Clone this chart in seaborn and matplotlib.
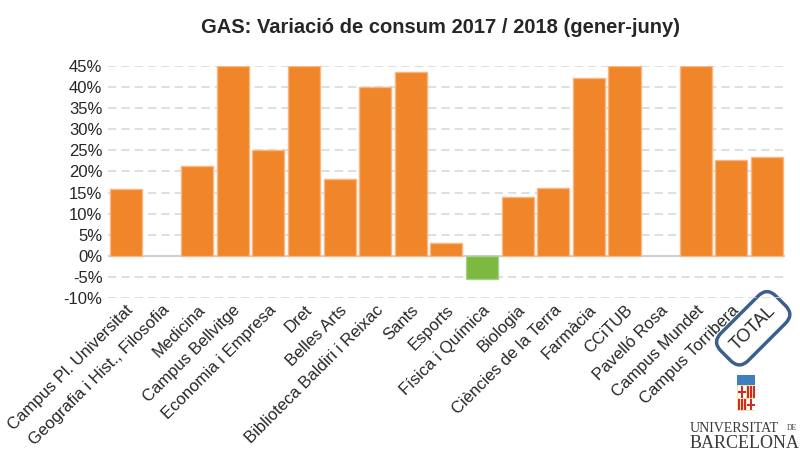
import numpy as np
import pandas as pd
import matplotlib
matplotlib.use("Agg")
import matplotlib.pyplot as plt
import seaborn as sns
from matplotlib.patches import Rectangle
from matplotlib.ticker import FuncFormatter

# centres / edificis (gener-juny 2017 vs 2018)
centres = ["Campus Pl. Universitat", "Geografia i Hist., Filosofia", "Medicina",
           "Campus Bellvitge", "Economia i Empresa", "Dret", "Belles Arts",
           "Biblioteca Baldiri i Reixac", "Sants", "Esports", "Física i Química",
           "Biologia", "Ciències de la Terra", "Farmàcia", "CCiTUB", "Pavelló Rosa",
           "Campus Mundet", "Campus Torribera", "TOTAL"]
variacio = [15.8, 0.0, 21.2, 45.0, 25.1, 45.0, 18.3, 40.0, 43.5, 3.0, -5.4,
            13.9, 16.1, 42.2, 45.0, 0.0, 45.0, 22.6, 23.4]
yticks = list(range(-10, 50, 5))

orange = "#F0852A"
green = "#7CB940"
colors = [green if v < 0 else orange for v in variacio]
edges = ["#A9D08E" if v < 0 else "#F6B784" for v in variacio]

df = pd.DataFrame({"centre": centres, "var": variacio})

sns.set_style("white")
plt.rcParams["font.family"] = ["Liberation Sans", "DejaVu Sans"]

fig = plt.figure(figsize=(8, 4.53), dpi=100)
ax = fig.add_axes([0.135, 0.3415, 0.846, 0.5135])

sns.barplot(data=df, x="centre", y="var", hue="centre", palette=colors,
            legend=False, width=0.9, ax=ax, saturation=1)
for p, ec, v in zip(ax.patches, edges, variacio):
    p.set_edgecolor(ec if v != 0 else "none")
    p.set_linewidth(1.0)
    p.set_zorder(3)

ax.set_ylim(-10, 45)
ax.set_xlim(-0.5, len(centres) - 0.5)
ax.set_yticks(yticks)
ax.yaxis.set_major_formatter(FuncFormatter(lambda v, _: f"{v:.0f}%"))
ax.tick_params(axis="y", labelsize=12, length=0, pad=4)
ax.tick_params(axis="x", labelsize=12, length=0, pad=3)
for y in yticks:
    if y == 0:
        ax.axhline(0, color="#D0D0D0", lw=1.5, zorder=2)
    else:
        ax.axhline(y, color="#D9D9D9", lw=1.2, ls=(0, (5, 3)), zorder=1)
for s in ax.spines.values():
    s.set_visible(False)
ax.set_xlabel("")
ax.set_ylabel("")
ax.set_xticks(range(len(centres)))
ax.set_xticklabels(centres, rotation=45, ha="right", rotation_mode="anchor")
for lab in ax.get_xticklabels():
    if lab.get_text() == "TOTAL":
        lab.set_fontsize(13)
        lab.set_bbox(dict(boxstyle="round,pad=0.6,rounding_size=0.7",
                          fc="none", ec="#3C5F8E", lw=2.5))

fig.text(0.55, 0.94, "GAS: Variació de consum 2017 / 2018 (gener-juny)",
         ha="center", va="center", fontsize=14.5, fontweight="bold")

# logo Universitat de Barcelona (aprox.)
W, H = 800, 453
def px(x, y, w, h, c):
    fig.patches.append(Rectangle((x / W, 1 - (y + h) / H), w / W, h / H,
                                 transform=fig.transFigure, fc=c, ec="none"))
px(737, 375, 18, 10, "#3F7FC0")
px(737, 385, 18, 26, "#F3E2A6")
px(738, 386, 8, 12, "#FFFFFF")
px(741, 386, 2, 12, "#D42A2A")
px(738, 391, 8, 2, "#D42A2A")
px(747, 386, 1.5, 12, "#D42A2A")
px(750, 386, 1.5, 12, "#D42A2A")
px(753, 386, 1.5, 12, "#D42A2A")
px(738, 399, 1.5, 11, "#D42A2A")
px(741, 399, 1.5, 11, "#D42A2A")
px(744, 399, 1.5, 11, "#D42A2A")
px(747, 399, 8, 11, "#FFFFFF")
px(750, 399, 2, 11, "#D42A2A")
px(747, 404, 8, 2, "#D42A2A")
fig.text(690 / W, 1 - 428 / H, "UNIVERSITAT", fontsize=10, family="Liberation Serif",
         color="#3A3A3A", va="center", ha="left")
fig.text(797 / W, 1 - 428 / H, "DE", fontsize=5.5, family="Liberation Serif",
         color="#3A3A3A", va="center", ha="right")
fig.text(690 / W, 1 - 443 / H, "BARCELONA", fontsize=13, family="Liberation Serif",
         color="#3A3A3A", va="center", ha="left")

fig.savefig("out.png", dpi=100)
